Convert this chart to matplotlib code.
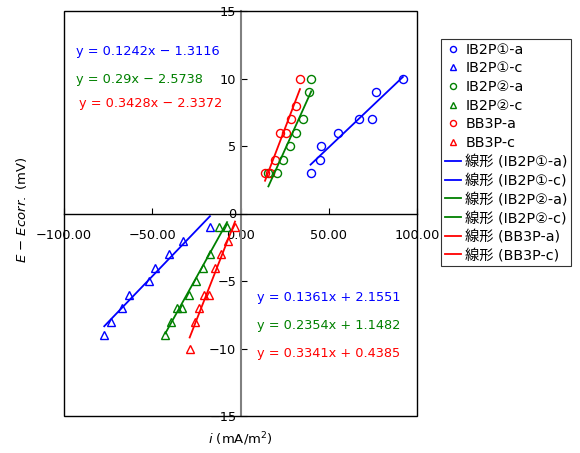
import matplotlib
matplotlib.use("Agg")
import matplotlib.pyplot as plt
import numpy as np
from matplotlib.patches import Rectangle
from matplotlib.ticker import FixedLocator, FixedFormatter

plt.rcParams["font.family"] = ["DejaVu Sans", "Noto Sans CJK JP"]
plt.rcParams["mathtext.fontset"] = "dejavusans"

# anodic (circles) and cathodic (triangles) points
ib1_a_x = [39.7, 45.0, 45.6, 55.0, 67.3, 74.5, 77.0, 92.0]
ib1_a_y = [3, 4, 5, 6, 7, 7, 9, 10]
ib1_c_x = [-77.2, -73.4, -67.3, -63.2, -51.8, -48.3, -40.7, -32.7, -17.3]
ib1_c_y = [-9, -8, -7, -6, -5, -4, -3, -2, -1]
ib2_a_x = [15.8, 20.5, 24.1, 28.0, 31.6, 35.4, 38.8, 40.1]
ib2_a_y = [3, 3, 4, 5, 6, 7, 9, 10]
ib2_c_x = [-42.6, -39.5, -36.0, -32.9, -29.0, -25.1, -21.1, -17.0, -12.3, -7.6]
ib2_c_y = [-9, -8, -7, -7, -6, -5, -4, -3, -1, -1]
bb3_a_x = [13.9, 16.7, 19.7, 22.6, 25.8, 28.6, 31.3, 33.7]
bb3_a_y = [3, 3, 4, 6, 6, 7, 8, 10]
bb3_c_x = [-28.8, -26.0, -23.3, -20.6, -17.7, -14.4, -10.9, -7.3, -3.1]
bb3_c_y = [-10, -8, -7, -6, -6, -4, -3, -2, -1]

# trendline coefficients as printed on the chart
slopes = [0.1242, 0.1361, 0.29, 0.2354, 0.3428, 0.3341]
intercepts = [-1.3116, 2.1551, -2.5738, 1.1482, -2.3372, 0.4385]
eq_texts = ["y = 0.1242x − 1.3116", "y = 0.29x − 2.5738", "y = 0.3428x − 2.3372",
            "y = 0.1361x + 2.1551", "y = 0.2354x + 1.1482", "y = 0.3341x + 0.4385"]

names = ["IB2P①-a", "IB2P①-c", "IB2P②-a", "IB2P②-c", "BB3P-a", "BB3P-c"]
xs_all = [ib1_a_x, ib1_c_x, ib2_a_x, ib2_c_x, bb3_a_x, bb3_c_x]
ys_all = [ib1_a_y, ib1_c_y, ib2_a_y, ib2_c_y, bb3_a_y, bb3_c_y]
colors = ["#0000FF", "#0000FF", "#008000", "#008000", "#FF0000", "#FF0000"]
markers = ["o", "^", "o", "^", "o", "^"]

xticks = [-100, -50, 0, 50, 100]
xticklabels = ["−100.00", "−50.00", "0.00", "50.00", "100.00"]
yticks = [-15, -10, -5, 0, 5, 10, 15]
yticklabels = ["−15", "−10", "−5", "0", "5", "10", "15"]

W, H = 580, 453
fig = plt.figure(figsize=(W / 100, H / 100), dpi=100)
ax = fig.add_axes([64 / W, 1 - 416 / H, 353 / W, 405 / H])

pts, lines = [], []
for x, y, c, m, n in zip(xs_all, ys_all, colors, markers, names):
    h, = ax.plot(x, y, m, mfc="none", mec=c, mew=1.0, ms=5.8, ls="none", label=n)
    pts.append(h)
for x, c, k, b, n in zip(xs_all, colors, slopes, intercepts, names):
    xx = np.array([min(x), max(x)])
    h, = ax.plot(xx, k * xx + b, "-", color=c, lw=1.3, label=f"線形 ({n})")
    lines.append(h)

ax.set_xlim(-100, 100)
ax.set_ylim(-15, 15)
ax.spines["left"].set_position(("data", 0))
ax.spines["bottom"].set_position(("data", 0))
ax.spines["left"].set_color("#808080")
ax.spines["left"].set_linewidth(1.5)
ax.spines["bottom"].set_linewidth(1.0)
ax.spines["top"].set_visible(False)
ax.spines["right"].set_visible(False)
ax.add_patch(Rectangle((0, 0), 1, 1, transform=ax.transAxes, fill=False,
                       ec="black", lw=1.0, clip_on=False, zorder=3))

ax.xaxis.set_major_locator(FixedLocator(xticks))
ax.xaxis.set_major_formatter(FixedFormatter(xticklabels))
ax.yaxis.set_major_locator(FixedLocator(yticks))
ax.yaxis.set_major_formatter(FixedFormatter(yticklabels))
ax.tick_params(axis="x", direction="in", length=4, pad=11, labelsize=9.3)
ax.tick_params(axis="y", direction="in", length=4, pad=3, labelsize=9.3)

ax.set_ylabel(r"$\mathit{E}$ − $\mathit{Ecorr.}$ (mV)", fontsize=9.5)
ax.yaxis.set_label_coords(-0.1, 0.51)
ax.set_xlabel(r"$\mathit{i}$ (mA/m$^2$)", fontsize=9.5)
ax.xaxis.set_label_coords(0.5, -0.035)

# equation labels
eq_pos = [(76, 52), (76, 79), (79, 103), (257, 298), (257, 326), (257, 354)]
eq_cols = ["#0000FF", "#008000", "#FF0000", "#0000FF", "#008000", "#FF0000"]
for t, (px, py), c in zip(eq_texts, eq_pos, eq_cols):
    fig.text(px / W, 1 - py / H, t, color=c, fontsize=9.3, ha="left", va="center")

leg = fig.legend(pts + lines, [h.get_label() for h in pts + lines],
                 loc="upper left", bbox_to_anchor=(441 / W, 1 - 39 / H),
                 frameon=True, fancybox=False, edgecolor="black", fontsize=10.3,
                 labelspacing=0.33, handlelength=1.15, handletextpad=0.3,
                 borderpad=0.25, markerscale=0.75, borderaxespad=0)
leg.get_frame().set_linewidth(0.8)

fig.savefig("out.png", dpi=100)
